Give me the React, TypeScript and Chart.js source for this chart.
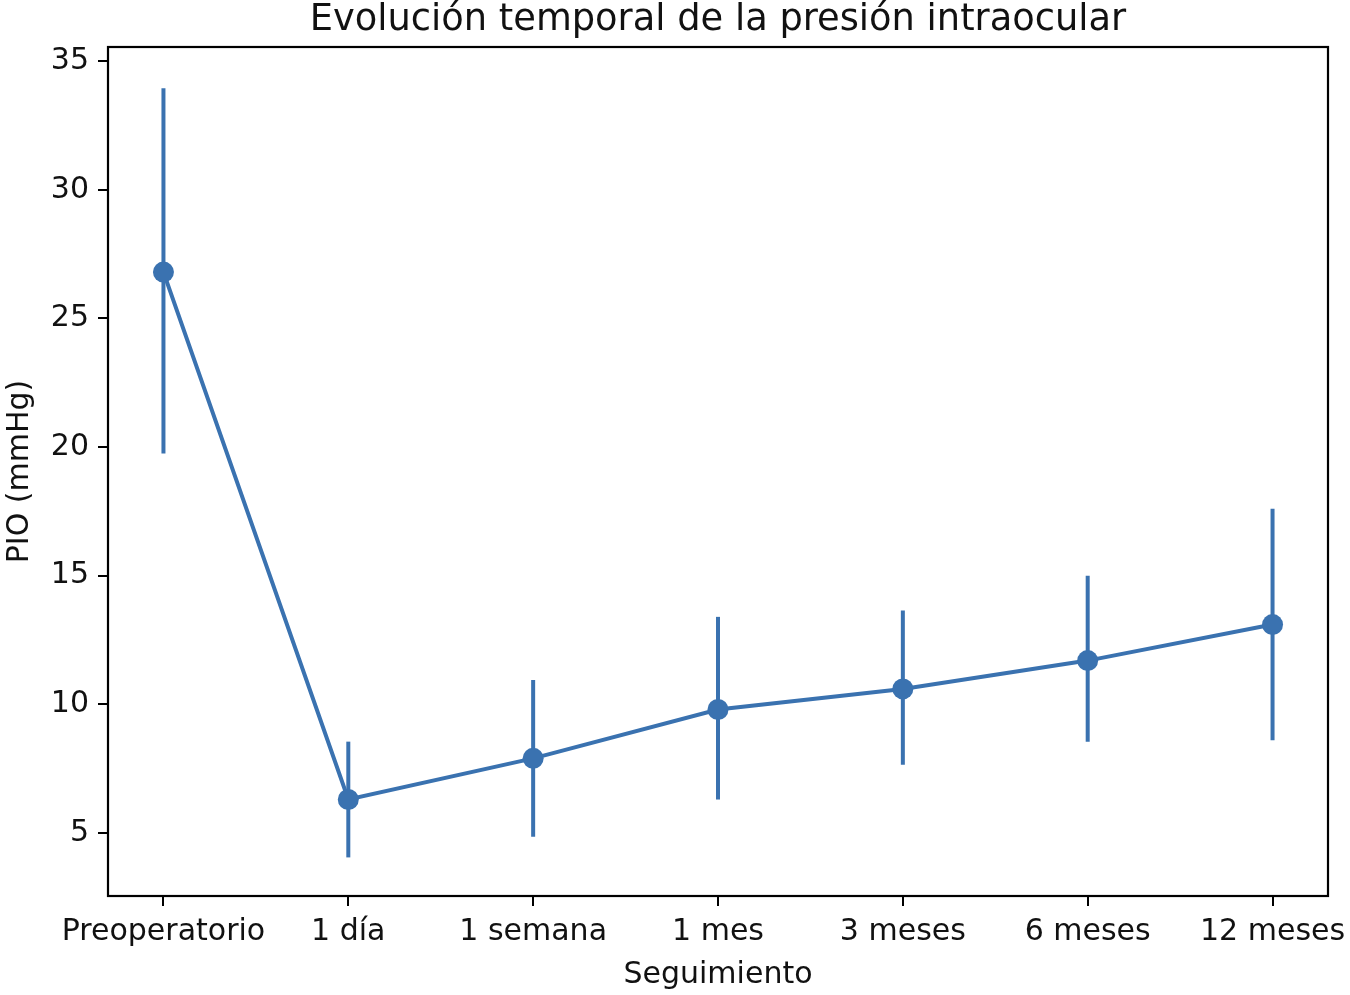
import React, { useEffect, useRef } from "react";
import { Chart, registerables } from "chart.js";

Chart.register(...registerables);

const categories = ["Preoperatorio", "1 día", "1 semana", "1 mes", "3 meses", "6 meses", "12 meses"];
const means = [26.8, 6.3, 7.9, 9.8, 10.6, 11.7, 13.1];
const lower = [19.75, 4.05, 4.85, 6.3, 7.65, 8.55, 8.6];
const upper = [33.95, 8.55, 10.95, 13.4, 13.65, 15.0, 17.6];
const yTicks = [5, 10, 15, 20, 25, 30, 35];
const titleText = "Evolución temporal de la presión intraocular";

const COLOR = "#3a72b0";
const FONT = "'DejaVu Sans', sans-serif";
const TEXT = "#111";

const errorBars = {
  id: "errorBars",
  beforeDatasetsDraw(chart: any) {
    const { ctx, scales } = chart;
    const xs = scales.x;
    const ys = scales.y;
    ctx.save();
    ctx.strokeStyle = COLOR;
    ctx.lineWidth = 4;
    ctx.lineCap = "butt";
    for (let i = 0; i < means.length; i++) {
      const x = xs.getPixelForValue(i);
      ctx.beginPath();
      ctx.moveTo(x, ys.getPixelForValue(lower[i]));
      ctx.lineTo(x, ys.getPixelForValue(upper[i]));
      ctx.stroke();
    }
    ctx.restore();
  },
};

const frame = {
  id: "frame",
  afterDraw(chart: any) {
    const { ctx, chartArea: a } = chart;
    ctx.save();
    ctx.strokeStyle = "#000";
    ctx.lineWidth = 2.2;
    ctx.strokeRect(a.left, a.top, a.right - a.left, a.bottom - a.top);
    ctx.fillStyle = TEXT;
    ctx.font = `normal 36.8px ${FONT}`;
    ctx.textAlign = "center";
    ctx.textBaseline = "middle";
    ctx.fillText(titleText, (a.left + a.right) / 2, 20.5);
    ctx.restore();
  },
};

export default function App() {
  const ref = useRef<HTMLCanvasElement | null>(null);
  useEffect(() => {
    if (!ref.current) return;
    const chart = new Chart(ref.current, {
      type: "line",
      data: {
        datasets: [
          {
            data: means.map((v, i) => ({ x: i, y: v })),
            borderColor: COLOR,
            backgroundColor: COLOR,
            borderWidth: 4,
            pointRadius: 10.5,
            pointBorderWidth: 0,
            pointBackgroundColor: COLOR,
            tension: 0,
          },
        ],
      },
      options: {
        animation: false,
        responsive: true,
        maintainAspectRatio: false,
        layout: { padding: { left: 0, right: 22, top: 47, bottom: 0 } },
        plugins: {
          legend: { display: false },
          tooltip: { enabled: false },
          title: { display: false },
        },
        scales: {
          x: {
            type: "linear",
            min: -0.3,
            max: 6.3,
            afterBuildTicks: (scale: any) => {
              scale.ticks = categories.map((_, i) => ({ value: i }));
            },
            afterFit: (scale: any) => {
              scale.height = 99;
              scale.paddingLeft = 0;
              scale.paddingRight = 0;
            },
            ticks: {
              color: TEXT,
              font: { family: FONT, size: 30 },
              padding: 8,
              maxRotation: 0,
              autoSkip: false,
              callback: (v: any) => categories[v as number] ?? "",
            },
            grid: {
              display: true,
              drawOnChartArea: false,
              drawTicks: true,
              tickLength: 10,
              color: "#000",
              lineWidth: 2,
            },
            border: { display: false },
            title: {
              display: true,
              text: "Seguimiento",
              color: TEXT,
              font: { family: FONT, size: 30 },
              padding: { top: 0, bottom: 2 },
            },
          },
          y: {
            min: 2.55,
            max: 35.55,
            afterBuildTicks: (scale: any) => {
              scale.ticks = yTicks.map((v) => ({ value: v }));
            },
            afterFit: (scale: any) => {
              scale.width = 108;
              scale.paddingTop = 0;
              scale.paddingBottom = 0;
            },
            ticks: {
              color: TEXT,
              font: { family: FONT, size: 30 },
              padding: 9,
            },
            grid: {
              display: true,
              drawOnChartArea: false,
              drawTicks: true,
              tickLength: 10,
              color: "#000",
              lineWidth: 2,
            },
            border: { display: false },
            title: {
              display: true,
              text: "PIO (mmHg)",
              color: TEXT,
              font: { family: FONT, size: 30 },
              padding: { top: 2, bottom: 0 },
            },
          },
        },
      },
      plugins: [errorBars, frame],
    });
    return () => chart.destroy();
  }, []);
  return (
    <div style={{ position: "fixed", left: 0, top: 0, width: 1350, height: 995, background: "#fff" }}>
      <canvas ref={ref} />
    </div>
  );
}
